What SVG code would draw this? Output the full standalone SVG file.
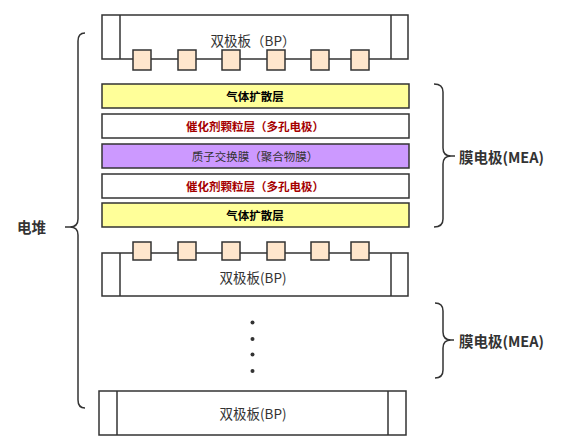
<svg xmlns="http://www.w3.org/2000/svg" width="572" height="444" viewBox="0 0 572 444">
<style>
.box{fill:#fff;stroke:#333;stroke-width:1.5}
.ln{fill:none;stroke:#333;stroke-width:1.5}
.sq{fill:#ffe6cc;stroke:#333;stroke-width:1.5}
.yel{fill:#ffff99;stroke:#333;stroke-width:1.5}
.pur{fill:#cc99ff;stroke:#333;stroke-width:1.5}
.brace{fill:none;stroke:#333;stroke-width:1.5}
text{font-family:"Noto Sans CJK SC","Liberation Sans",sans-serif;text-anchor:middle;dominant-baseline:central}
.bp{font-size:13.5px;fill:#333}
.lay{font-size:11.5px;font-weight:bold;fill:#000}
.red{font-size:11.5px;font-weight:bold;fill:#a50000}
.pem{font-size:11.5px;fill:#333}
.lbl{font-size:14.5px;font-weight:bold;fill:#333;text-anchor:start}
</style>
<g id="bp-top">
<rect class="box" x="102" y="15" width="306" height="44"/>
<line class="ln" x1="120" y1="15" x2="120" y2="59"/>
<line class="ln" x1="391" y1="15" x2="391" y2="59"/>
<rect class="sq" x="133" y="50" width="18" height="20"/>
<rect class="sq" x="178" y="50" width="18" height="20"/>
<rect class="sq" x="222" y="50" width="18" height="20"/>
<rect class="sq" x="267" y="50" width="18" height="20"/>
<rect class="sq" x="311" y="50" width="18" height="20"/>
<rect class="sq" x="351" y="50" width="18" height="20"/>
<text class="bp" x="253" y="40">双极板（BP）</text>
</g>
<g id="gdl-1">
<rect class="yel" x="102" y="84" width="307" height="24"/>
<text class="lay" x="255" y="96">气体扩散层</text>
</g>
<g id="cl-1">
<rect class="box" x="102" y="114" width="307" height="24"/>
<text class="red" x="255" y="126">催化剂颗粒层（多孔电极）</text>
</g>
<g id="pem">
<rect class="pur" x="102" y="144" width="307" height="24"/>
<text class="pem" x="255" y="156">质子交换膜（聚合物膜）</text>
</g>
<g id="cl-2">
<rect class="box" x="102" y="174" width="307" height="24"/>
<text class="red" x="255" y="186">催化剂颗粒层（多孔电极）</text>
</g>
<g id="gdl-2">
<rect class="yel" x="102" y="203" width="307" height="24"/>
<text class="lay" x="255" y="215">气体扩散层</text>
</g>
<g id="bp-mid">
<rect class="box" x="102" y="253" width="306" height="43"/>
<line class="ln" x1="120" y1="253" x2="120" y2="296"/>
<line class="ln" x1="391" y1="253" x2="391" y2="296"/>
<rect class="sq" x="133" y="242" width="18" height="18"/>
<rect class="sq" x="178" y="242" width="18" height="18"/>
<rect class="sq" x="222" y="242" width="18" height="18"/>
<rect class="sq" x="267" y="242" width="18" height="18"/>
<rect class="sq" x="311" y="242" width="18" height="18"/>
<rect class="sq" x="351" y="242" width="18" height="18"/>
<text class="bp" x="253" y="277">双极板(BP)</text>
</g>
<g id="dots" fill="#333">
<circle cx="252.5" cy="322.5" r="2"/>
<circle cx="252.5" cy="339" r="2"/>
<circle cx="252.5" cy="354.5" r="2"/>
<circle cx="252.5" cy="371" r="2"/>
</g>
<g id="bp-bottom">
<rect class="box" x="99" y="391" width="307" height="44"/>
<line class="ln" x1="117" y1="391" x2="117" y2="435"/>
<line class="ln" x1="388" y1="391" x2="388" y2="435"/>
<text class="bp" x="253" y="413">双极板(BP)</text>
</g>
<g id="connectors">
<path class="brace" d="M85,33 Q78,33 78,41 L78,219 Q78,227 70,227 L65,227 M70,227 Q78,227 78,235 L78,400 Q78,408 85,408"/>
<path class="brace" d="M434,84 Q443,84 443,92 L443,148 Q443,156 451,156 L455,156 M451,156 Q443,156 443,164 L443,219 Q443,227 434,227"/>
<path class="brace" d="M435,303 Q443,303 443,311 L443,332 Q443,340 451,340 L454,340 M451,340 Q443,340 443,348 L443,370 Q443,378 435,378"/>
</g>
<g id="labels">
<text class="lbl" x="17" y="226">电堆</text>
<text class="lbl" x="459" y="156">膜电极(MEA)</text>
<text class="lbl" x="459" y="340">膜电极(MEA)</text>
</g>
</svg>
